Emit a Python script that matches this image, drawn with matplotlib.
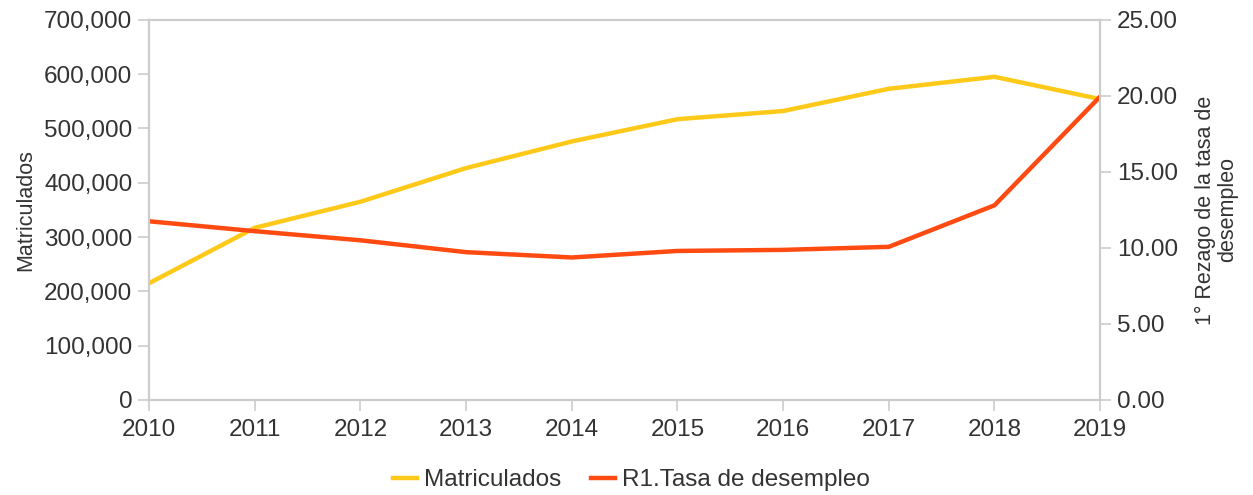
import numpy as np
from matplotlib import pyplot as plt
from matplotlib.ticker import FuncFormatter

plt.rcParams['font.family'] = ['Liberation Sans', 'DejaVu Sans']

years = [2010, 2011, 2012, 2013, 2014, 2015, 2016, 2017, 2018, 2019]
matriculados = [215000, 317000, 365000, 427000, 476000, 517000, 532000, 573000, 595000, 554000]
tasa_desempleo = [11.75, 11.1, 10.5, 9.72, 9.37, 9.8, 9.87, 10.07, 12.8, 19.95]

gris = '#cccccc'
texto = '#333333'
amarillo = '#ffc91a'
rojo = '#ff4a12'

fig = plt.figure(figsize=(12.53, 4.95), dpi=100)
ax = fig.add_axes([0.119, 0.192, 0.759, 0.768])
ax2 = ax.twinx()

l1, = ax.plot(years, matriculados, color=amarillo, lw=3.2, label='Matriculados')
l2, = ax2.plot(years, tasa_desempleo, color=rojo, lw=3.2, label='R1.Tasa de desempleo')

ax.set_xlim(2010, 2019)
ax.set_ylim(0, 700000)
ax2.set_ylim(0, 25)
ax.set_xticks(years)
ax.set_yticks(np.arange(0, 700001, 100000))
ax2.set_yticks(np.arange(0, 25.01, 5))
ax.yaxis.set_major_formatter(FuncFormatter(lambda v, p: f'{v:,.0f}'))
ax2.yaxis.set_major_formatter(FuncFormatter(lambda v, p: f'{v:.2f}'))

for a in (ax, ax2):
    for s in a.spines.values():
        s.set_color(gris)
        s.set_linewidth(1.5)
    a.tick_params(colors=gris, labelcolor=texto, labelsize=17.5, length=8, width=1.2)
ax.tick_params(axis='y', pad=4)
ax.tick_params(axis='x', pad=6)
ax2.tick_params(axis='y', pad=4)

ax.set_ylabel('Matriculados', fontsize=15.5, color=texto, labelpad=6)
ax2.set_ylabel('1° Rezago de la tasa de\ndesempleo', fontsize=15.5, color=texto,
               labelpad=12, linespacing=1.1)

fig.legend(handles=[l1, l2], loc='center', bbox_to_anchor=(0.504, 0.03), ncol=2,
           frameon=False, fontsize=17.5, handlelength=1.0, handletextpad=0.3,
           columnspacing=1.2, labelcolor=texto, borderpad=0)

fig.savefig('out.png', dpi=100)
